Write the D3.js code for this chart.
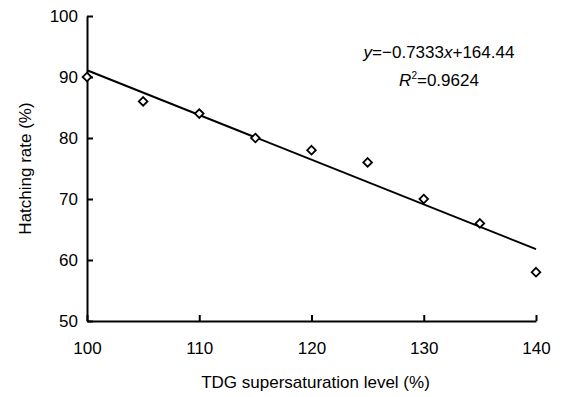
<!DOCTYPE html>
<html>
<head>
<meta charset="utf-8">
<script src="https://cdn.jsdelivr.net/npm/d3@7"></script>
<style>
  body { margin: 0; background: #fff; }
  svg { font-family: "Liberation Sans", Arial, sans-serif; }
</style>
</head>
<body>
<div id="chart"></div>
<script>
// values
const tdgLevels = [100, 105, 110, 115, 120, 125, 130, 135, 140];
const hatchingRates = [90, 86, 84, 80, 78, 76, 70, 66, 58];
const xTicks = [100, 110, 120, 130, 140];
const yTicks = [50, 60, 70, 80, 90, 100];
const slope = -0.7333;
const intercept = 164.44;

const width = 566;
const height = 397;
const margin = { top: 16, right: 30, bottom: 76, left: 87 };

const svg = d3.select('#chart').append('svg')
  .attr('width', width)
  .attr('height', height);

const x = d3.scaleLinear().domain([100, 140])
  .range([margin.left, width - margin.right]);
const y = d3.scaleLinear().domain([50, 100])
  .range([height - margin.bottom, margin.top]);

// axes, ticks pointing inwards
const xAxis = svg.append('g')
  .attr('transform', `translate(0,${y(50)})`)
  .call(d3.axisBottom(x).tickValues(xTicks).tickSizeInner(-6).tickSizeOuter(0).tickPadding(21));
const yAxis = svg.append('g')
  .attr('transform', `translate(${x(100)},0)`)
  .call(d3.axisLeft(y).tickValues(yTicks).tickSizeInner(-6).tickSizeOuter(0).tickPadding(9));

[xAxis, yAxis].forEach((ax) => {
  ax.select('.domain').attr('stroke', '#000').attr('stroke-width', 2);
  ax.selectAll('.tick line').attr('stroke', '#000').attr('stroke-width', 2);
  ax.selectAll('.tick text').attr('font-size', 17).attr('fill', '#000');
});
xAxis.selectAll('.tick text').attr('dy', '0.71em');

// trend line
const trend = d3.line()
  .x((d) => x(d))
  .y((d) => y(slope * d + intercept));
svg.append('path')
  .datum([100, 140])
  .attr('d', trend)
  .attr('fill', 'none')
  .attr('stroke', '#000')
  .attr('stroke-width', 2);

// data points as open diamonds
const diamond = d3.symbol().type(d3.symbolDiamond2).size(48);
svg.selectAll('.pt')
  .data(tdgLevels.map((t, i) => ({ t, v: hatchingRates[i] })))
  .enter().append('path')
  .attr('class', 'pt')
  .attr('d', diamond)
  .attr('transform', (d) => `translate(${x(d.t)},${y(d.v)})`)
  .attr('fill', '#fff')
  .attr('stroke', '#000')
  .attr('stroke-width', 1.8);

// axis titles
svg.append('text')
  .attr('x', (x(100) + x(140)) / 2 + 4)
  .attr('y', 388)
  .attr('text-anchor', 'middle')
  .attr('font-size', 17)
  .text('TDG supersaturation level (%)');

svg.append('text')
  .attr('transform', `translate(31,${(y(50) + y(100)) / 2}) rotate(-90)`)
  .attr('text-anchor', 'middle')
  .attr('font-size', 17)
  .text('Hatching rate (%)');

// equation
const eq = svg.append('text')
  .attr('x', 439)
  .attr('y', 58)
  .attr('text-anchor', 'middle')
  .attr('font-size', 17);
eq.append('tspan').attr('font-style', 'italic').text('y');
eq.append('tspan').text('=\u22120.7333');
eq.append('tspan').attr('font-style', 'italic').text('x');
eq.append('tspan').text('+164.44');

const r2 = svg.append('text')
  .attr('x', 439)
  .attr('y', 86)
  .attr('text-anchor', 'middle')
  .attr('font-size', 17);
r2.append('tspan').attr('font-style', 'italic').text('R');
r2.append('tspan').attr('font-size', 10).attr('dy', -7).text('2');
r2.append('tspan').attr('dy', 7).text('=0.9624');
</script>
</body>
</html>
